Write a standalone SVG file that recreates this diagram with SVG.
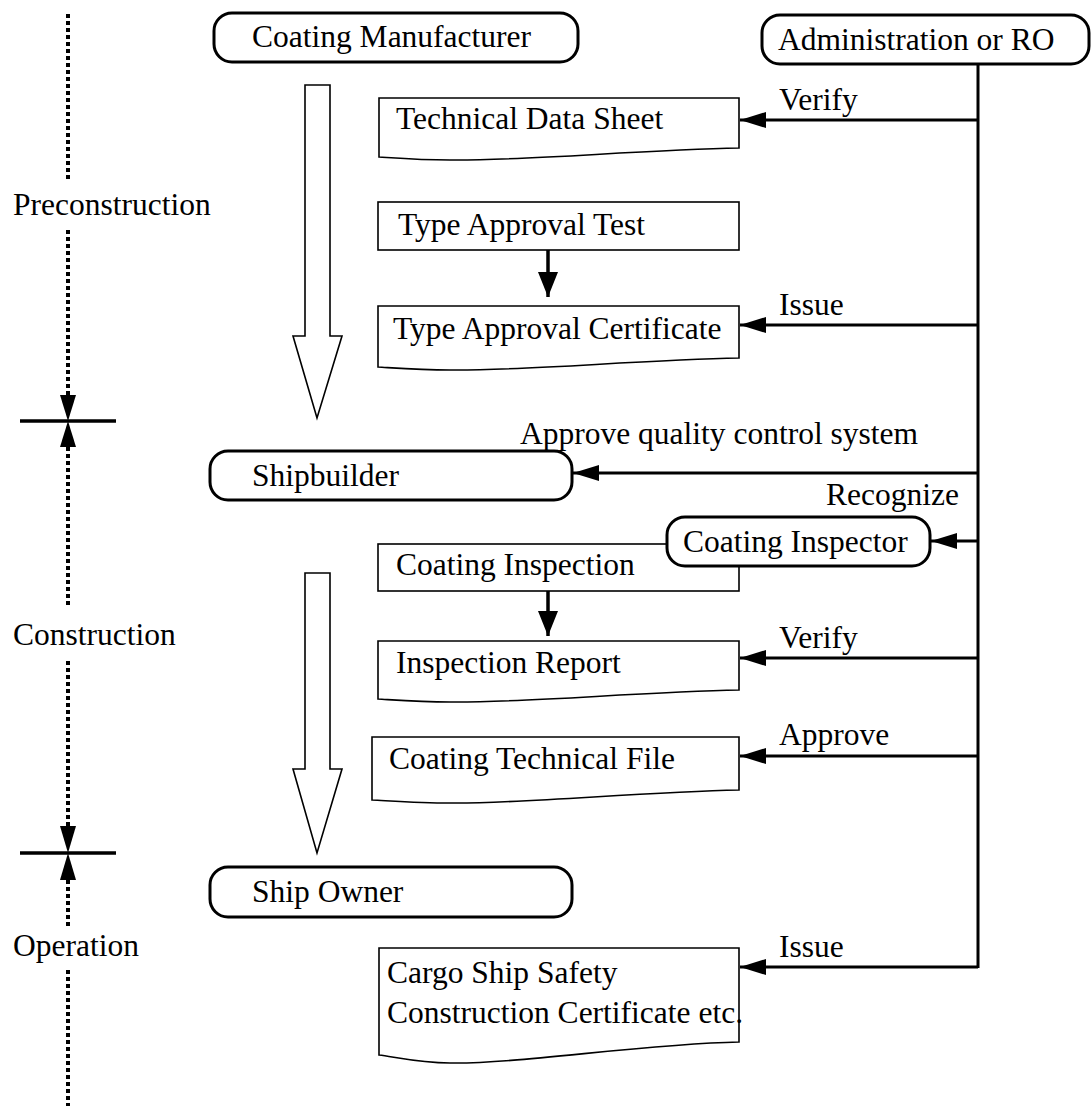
<svg xmlns="http://www.w3.org/2000/svg" width="1091" height="1113" viewBox="0 0 1091 1113">
  <style>
    text { font-family: "Liberation Serif", "Times New Roman", serif; font-size: 31.5px; fill: #000; }
    .term { fill: #fff; stroke: #000; stroke-width: 3; }
    .box { fill: #fff; stroke: #000; stroke-width: 1.6; }
    .doc { fill: #fff; stroke: #000; stroke-width: 1.6; }
    .flow { fill: #fff; stroke: #000; stroke-width: 1.6; stroke-linejoin: miter; }
    .link { fill: none; stroke: #000; stroke-width: 3; }
    .arrow { fill: none; stroke: #000; stroke-width: 3; marker-end: url(#head); }
    .step { fill: none; stroke: #000; stroke-width: 3.5; marker-end: url(#head-down); }
    .phase { fill: none; stroke: #000; stroke-width: 4; stroke-dasharray: 4 3; }
    .tick { fill: none; stroke: #000; stroke-width: 3.5; }
  </style>
  <defs>
    <marker id="head" markerUnits="userSpaceOnUse" markerWidth="26" markerHeight="16" refX="26" refY="8" orient="auto">
      <path d="M0,0 L26,8 L0,16 Z" fill="#000"/>
    </marker>
    <marker id="head-down" markerUnits="userSpaceOnUse" markerWidth="25" markerHeight="20" refX="25" refY="10" orient="auto">
      <path d="M0,0 L25,10 L0,20 Z" fill="#000"/>
    </marker>
  </defs>

  <rect width="1091" height="1113" fill="#fff"/>

  <!-- phase timeline on the left -->
  <g id="timeline">
    <line class="phase" x1="68" y1="14" x2="68" y2="180"/>
    <text x="13" y="215">Preconstruction</text>
    <line class="phase" x1="68" y1="230" x2="68" y2="397"/>
    <path d="M60,395 L76,395 L68,421 Z"/>
    <line class="tick" x1="20" y1="421" x2="116" y2="421"/>
    <path d="M60,447 L76,447 L68,421 Z"/>
    <line class="phase" x1="68" y1="447" x2="68" y2="608"/>
    <text x="13" y="645">Construction</text>
    <line class="phase" x1="68" y1="661" x2="68" y2="828"/>
    <path d="M60,826 L76,826 L68,853 Z"/>
    <line class="tick" x1="20" y1="853" x2="116" y2="853"/>
    <path d="M60,880 L76,880 L68,853 Z"/>
    <line class="phase" x1="68" y1="880" x2="68" y2="928"/>
    <text x="13" y="956">Operation</text>
    <line class="phase" x1="68" y1="970" x2="68" y2="1106"/>
  </g>

  <!-- hollow progress arrows -->
  <g id="progress-pre">
    <path class="flow" d="M305,85 H330 V336 H342 L317,418 L293,336 H305 Z"/>
  </g>
  <g id="progress-con">
    <path class="flow" d="M305,573 H330 V769 H342 L317,853 L293,769 H305 Z"/>
  </g>

  <!-- parties -->
  <g id="coating-manufacturer">
    <rect class="term" x="214" y="13" width="364" height="49" rx="18"/>
    <text x="252" y="47">Coating Manufacturer</text>
  </g>
  <g id="administration">
    <rect class="term" x="762" y="15" width="327" height="49" rx="18"/>
    <text x="778" y="50">Administration or RO</text>
  </g>
  <g id="shipbuilder">
    <rect class="term" x="210" y="451" width="362" height="49" rx="18"/>
    <text x="252" y="486">Shipbuilder</text>
  </g>
  <g id="ship-owner">
    <rect class="term" x="210" y="867" width="362" height="50" rx="18"/>
    <text x="252" y="902">Ship Owner</text>
  </g>

  <!-- documents and activities -->
  <g id="technical-data-sheet">
    <path class="doc" d="M379,98 H739 V148 C640,150 520,161 450,160 C420,160 395,158 379,157 Z"/>
    <text x="396" y="129">Technical Data Sheet</text>
  </g>
  <g id="type-approval-test">
    <rect class="box" x="378" y="202" width="361" height="48"/>
    <text x="398" y="235">Type Approval Test</text>
  </g>
  <g id="type-approval-certificate">
    <path class="doc" d="M378,306 H739 V358 C640,360 520,371 450,370 C420,370 395,368 378,367 Z"/>
    <text x="393" y="339">Type Approval Certificate</text>
  </g>
  <g id="coating-inspection">
    <rect class="box" x="378" y="544" width="361" height="47"/>
    <text x="396" y="575">Coating Inspection</text>
  </g>
  <g id="coating-inspector">
    <rect class="term" x="667" y="517" width="263" height="49" rx="18"/>
    <text x="683" y="552">Coating Inspector</text>
  </g>
  <g id="inspection-report">
    <path class="doc" d="M378,641 H739 V690 C640,692 520,703 450,702 C420,702 395,700 378,699 Z"/>
    <text x="396" y="673">Inspection Report</text>
  </g>
  <g id="coating-technical-file">
    <path class="doc" d="M372,737 H739 V790 C640,792 520,804 450,803 C420,803 392,801 372,800 Z"/>
    <text x="389" y="769">Coating Technical File</text>
  </g>
  <g id="safety-certificate">
    <path class="doc" d="M379,948 H739 V1042 C640,1044 520,1064 450,1063 C420,1063 395,1057 379,1055 Z"/>
    <text x="387" y="983">Cargo Ship Safety</text>
    <text x="387" y="1023">Construction Certificate etc.</text>
  </g>

  <!-- connectors -->
  <g id="connectors">
    <line class="link" x1="978" y1="64" x2="978" y2="968"/>
    <line class="arrow" x1="978" y1="120" x2="740" y2="120"/>
    <line class="step" x1="548" y1="250" x2="548" y2="297"/>
    <line class="arrow" x1="978" y1="325" x2="740" y2="325"/>
    <line class="arrow" x1="978" y1="473" x2="573" y2="473"/>
    <line class="arrow" x1="978" y1="541" x2="931" y2="541"/>
    <line class="step" x1="548" y1="591" x2="548" y2="636"/>
    <line class="arrow" x1="978" y1="658" x2="740" y2="658"/>
    <line class="arrow" x1="978" y1="756" x2="740" y2="756"/>
    <line class="arrow" x1="978" y1="967" x2="740" y2="967"/>
    <text x="779" y="110">Verify</text>
    <text x="779" y="315">Issue</text>
    <text x="520" y="444">Approve quality control system</text>
    <text x="826" y="505">Recognize</text>
    <text x="779" y="648">Verify</text>
    <text x="779" y="745">Approve</text>
    <text x="779" y="957">Issue</text>
  </g>
</svg>
